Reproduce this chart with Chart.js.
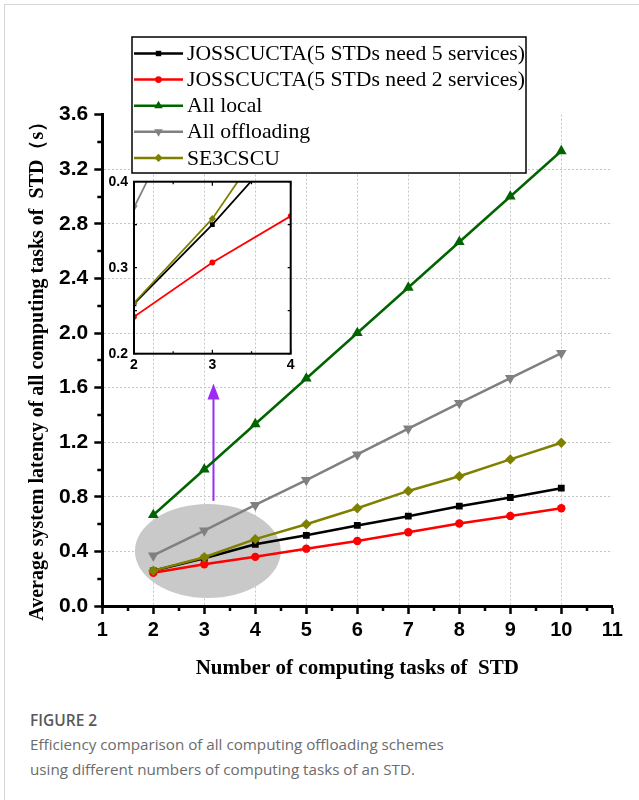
<!DOCTYPE html>
<html>
<head>
<meta charset="utf-8">
<script src="https://cdn.jsdelivr.net/npm/chart.js@4.4.1/dist/chart.umd.min.js"></script>
<style>
  html, body { margin: 0; padding: 0; background: #fff; }
  #page { position: relative; width: 639px; height: 800px; overflow: hidden; }
  #frame { position: absolute; left: 4px; top: 4px; width: 700px; height: 820px;
           border-top: 1.5px solid #d6d6d6; border-left: 1.5px solid #d6d6d6; }
  #main { position: absolute; left: 0; top: 0; }
  #inset { position: absolute; left: 100px; top: 165px; }
  .fig-no { position: absolute; left: 30px; top: 709px; font: 600 15.5px 'Open Sans', sans-serif; color: #595959; }
  .fig-cap { position: absolute; left: 30px; top: 732px; font: 15.2px/25px 'Open Sans', sans-serif; color: #6c6c6c; }
</style>
</head>
<body>
<div id="page">
  <div id="frame"></div>
  <canvas id="main" width="639" height="700"></canvas>
  <canvas id="inset" width="200" height="215"></canvas>
  <div class="fig-no">FIGURE 2</div>
  <div class="fig-cap">Efficiency comparison of all computing offloading schemes<br>using different numbers of computing tasks of an STD.</div>
</div>
<script>
// ---- data ----
const tasks = [2, 3, 4, 5, 6, 7, 8, 9, 10];
const jossFive = [0.258, 0.350, 0.452, 0.518, 0.590, 0.658, 0.731, 0.795, 0.863];
const jossTwo = [0.243, 0.306, 0.360, 0.420, 0.476, 0.540, 0.604, 0.660, 0.716];
const allLocal = [0.667, 1.000, 1.333, 1.667, 2.000, 2.333, 2.667, 3.000, 3.333];
const allOffload = [0.370, 0.553, 0.740, 0.923, 1.110, 1.300, 1.486, 1.670, 1.853];
const se3cscu = [0.259, 0.357, 0.490, 0.599, 0.716, 0.843, 0.951, 1.074, 1.196];

const seriesNames = [
  'JOSSCUCTA(5 STDs need 5 services)',
  'JOSSCUCTA(5 STDs need 2 services)',
  'All local',
  'All offloading',
  'SE3CSCU'
];
const xTitle = 'Number of computing tasks of  STD';
const yTitle = 'Average system latency of all computing tasks of  STD（s）';

// ---- styling ----
const series = [jossFive, jossTwo, allLocal, allOffload, se3cscu];
const looks = [
  { color: '#000000', shape: 'rect',     rot: 0,   r: 4.8, order: 4 },
  { color: '#ff0000', shape: 'circle',   rot: 0,   r: 4.2, order: 3 },
  { color: '#006400', shape: 'triangle', rot: 0,   r: 6.2, order: 2 },
  { color: '#808080', shape: 'triangle', rot: 180, r: 6.2, order: 1 },
  { color: '#808000', shape: 'rectRot',  rot: 0,   r: 5.2, order: 0 }
];
const gridColor = '#c6c6c6';
const tickFont = { family: "'Liberation Sans', Arial, sans-serif", weight: 'bold' };
const serif = "'Liberation Serif', 'Times New Roman', serif";

function makeDatasets(k) {
  return series.map((vals, i) => ({
    label: seriesNames[i],
    data: tasks.map((t, j) => ({ x: t, y: vals[j] })),
    borderColor: looks[i].color,
    backgroundColor: looks[i].color,
    borderWidth: 2.5 * k,
    pointStyle: looks[i].shape,
    pointRotation: looks[i].rot,
    pointRadius: looks[i].r * k,
    pointBorderWidth: 0,
    tension: 0,
    order: looks[i].order
  }));
}

const atEdge = (c, lo, hi) => c.tick && (Math.abs(c.tick.value - lo) < 1e-6 || Math.abs(c.tick.value - hi) < 1e-6);

// grey ellipse + purple arrow, and minor ticks / titles / legend
const decor = {
  id: 'decor',
  beforeDatasetsDraw(chart) {
    const { ctx, scales: { x, y } } = chart;
    const cx = x.getPixelForValue(3.07), cy = y.getPixelForValue(0.403);
    const rx = x.getPixelForValue(3.07 + 1.43) - cx;
    const ry = cy - y.getPixelForValue(0.403 + 0.345);
    ctx.save();
    ctx.fillStyle = '#c9c9c9';
    ctx.beginPath();
    ctx.ellipse(cx, cy, rx, ry, 0, 0, Math.PI * 2);
    ctx.fill();

    const ax = x.getPixelForValue(3.18);
    const y0 = y.getPixelForValue(0.77), y1 = y.getPixelForValue(1.63);
    ctx.strokeStyle = '#9a2cf5';
    ctx.fillStyle = '#9a2cf5';
    ctx.lineWidth = 2;
    ctx.beginPath(); ctx.moveTo(ax, y0); ctx.lineTo(ax, y1 + 14); ctx.stroke();
    ctx.beginPath();
    ctx.moveTo(ax, y1); ctx.lineTo(ax - 6, y1 + 16); ctx.lineTo(ax + 6, y1 + 16);
    ctx.closePath(); ctx.fill();
    ctx.restore();
  },
  afterDraw(chart) {
    const { ctx, chartArea: ca, scales: { x, y } } = chart;
    ctx.save();
    // minor ticks
    ctx.strokeStyle = '#000';
    ctx.lineWidth = 2.5;
    ctx.beginPath();
    for (let v = x.min + 0.5; v < x.max; v += 1) {
      const px = Math.round(x.getPixelForValue(v));
      ctx.moveTo(px, ca.bottom); ctx.lineTo(px, ca.bottom + 5);
    }
    for (let v = y.min + 0.2; v < y.max; v += 0.4) {
      const py = Math.round(y.getPixelForValue(v));
      ctx.moveTo(ca.left, py); ctx.lineTo(ca.left - 5, py);
    }
    ctx.stroke();

    // axis titles
    ctx.fillStyle = '#000';
    ctx.textAlign = 'center';
    ctx.textBaseline = 'middle';
    ctx.font = 'bold 21px ' + serif;
    ctx.fillText(xTitle, (ca.left + ca.right) / 2, ca.bottom + 63);
    ctx.font = 'bold 20px ' + serif;
    ctx.save();
    ctx.translate(38, (ca.top + ca.bottom) / 2 + 6);
    ctx.rotate(-Math.PI / 2);
    ctx.fillText(yTitle, 0, 0);
    ctx.restore();

    // legend box
    const box = { left: 132, top: 37, right: 526, bottom: 173 };
    ctx.fillStyle = '#fff';
    ctx.fillRect(box.left, box.top, box.right - box.left, box.bottom - box.top);
    ctx.strokeStyle = '#000';
    ctx.lineWidth = 1.5;
    ctx.strokeRect(box.left, box.top, box.right - box.left, box.bottom - box.top);
    ctx.font = '21.7px ' + serif;
    ctx.textAlign = 'left';
    chart.data.datasets.forEach((ds, i) => {
      const ly = box.top + 16.5 + i * 26.1;
      ctx.strokeStyle = ds.borderColor;
      ctx.lineWidth = 2.5;
      ctx.beginPath(); ctx.moveTo(box.left + 2, ly); ctx.lineTo(box.left + 51, ly); ctx.stroke();
      ctx.fillStyle = ds.backgroundColor;
      Chart.helpers.drawPoint(ctx, { pointStyle: ds.pointStyle, rotation: ds.pointRotation, radius: ds.pointRadius * 0.8, borderWidth: 0 }, box.left + 26.5, ly);
      ctx.fillStyle = '#000';
      ctx.fillText(ds.label, box.left + 55, ly + 1);
    });
    ctx.restore();
  }
};

new Chart(document.getElementById('main'), {
  type: 'line',
  data: { datasets: makeDatasets(1) },
  options: {
    responsive: false,
    animation: false,
    devicePixelRatio: 1,
    layout: { padding: { left: 0, top: 114.6, right: 26.7, bottom: 0 } },
    plugins: { legend: { display: false }, tooltip: { enabled: false } },
    scales: {
      x: {
        type: 'linear', min: 1, max: 11,
        afterFit: s => { s.height = 94; },
        ticks: { stepSize: 1, padding: 4, color: '#000', font: { ...tickFont, size: 20 } },
        grid: { color: c => atEdge(c, 1, 11) ? 'rgba(0,0,0,0)' : gridColor, lineWidth: 1,
                tickLength: 8, tickWidth: 2.5, tickColor: '#000' },
        border: { color: '#000', width: 3, dash: [2, 2] }
      },
      y: {
        type: 'linear', min: 0, max: 3.6,
        afterFit: s => { s.width = 102.3; },
        ticks: { stepSize: 0.4, padding: 6, color: '#000', font: { ...tickFont, size: 21 },
                 callback: v => Number(v).toFixed(1) },
        grid: { color: c => atEdge(c, 0, 3.6) ? 'rgba(0,0,0,0)' : gridColor, lineWidth: 1,
                tickLength: 8, tickWidth: 2.5, tickColor: '#000' },
        border: { color: '#000', width: 3, dash: [2, 2] }
      }
    }
  },
  plugins: [decor]
});

// ---- zoomed inset (x 2..4, y 0.2..0.4) ----
const insetFrame = {
  id: 'insetFrame',
  afterDraw(chart) {
    const { ctx, chartArea: ca, scales: { x, y } } = chart;
    ctx.save();
    ctx.strokeStyle = '#000';
    ctx.lineWidth = 2;
    ctx.strokeRect(ca.left, ca.top, ca.right - ca.left, ca.bottom - ca.top);
    ctx.lineWidth = 1.2;
    ctx.beginPath();
    for (let v = x.min; v <= x.max + 1e-6; v += 0.5) {
      const px = x.getPixelForValue(v), len = Number.isInteger(v) ? 4 : 2.5;
      ctx.moveTo(px, ca.top); ctx.lineTo(px, ca.top + len);
      ctx.moveTo(px, ca.bottom); ctx.lineTo(px, ca.bottom - len);
    }
    for (let v = y.min; v <= y.max + 1e-6; v += 0.05) {
      const py = y.getPixelForValue(v);
      ctx.moveTo(ca.left, py); ctx.lineTo(ca.left + 3, py);
      ctx.moveTo(ca.right, py); ctx.lineTo(ca.right - 3, py);
    }
    ctx.stroke();
    ctx.restore();
  }
};

new Chart(document.getElementById('inset'), {
  type: 'line',
  data: { datasets: makeDatasets(0.7) },
  options: {
    responsive: false,
    animation: false,
    devicePixelRatio: 1,
    layout: { padding: { left: 0, top: 16.7, right: 9.3, bottom: 0 } },
    plugins: { legend: { display: false }, tooltip: { enabled: false } },
    scales: {
      x: {
        type: 'linear', min: 2, max: 4,
        afterFit: s => { s.height = 26.3; },
        ticks: { stepSize: 1, padding: 3, color: '#000', font: { ...tickFont, size: 14 } },
        grid: { drawOnChartArea: false, drawTicks: false },
        border: { display: false }
      },
      y: {
        type: 'linear', min: 0.2, max: 0.4,
        afterFit: s => { s.width = 34; },
        ticks: { stepSize: 0.1, padding: 6, color: '#000', font: { ...tickFont, size: 14 },
                 callback: v => Number(v).toFixed(1) },
        grid: { drawOnChartArea: false, drawTicks: false },
        border: { display: false }
      }
    }
  },
  plugins: [insetFrame]
});
</script>
</body>
</html>
